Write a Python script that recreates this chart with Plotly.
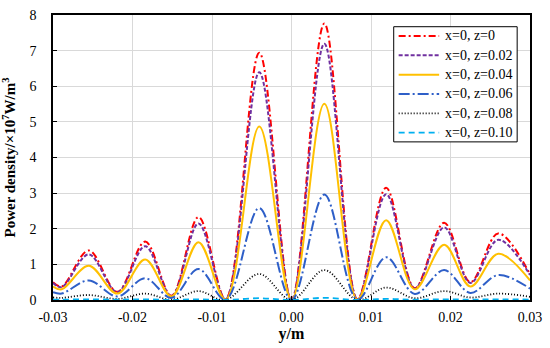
import plotly.graph_objects as go

y_pos = [-0.030, -0.0289, -0.0255, -0.0219, -0.0184, -0.0151, -0.0117, -0.0083, -0.00405,
         0.0, 0.00413, 0.0083, 0.0119, 0.0155, 0.0192, 0.0225, 0.026, 0.030]

z0   = [0.50, 0.38, 1.39, 0.23, 1.64, 0.12, 2.33, 0.02, 6.94, 0.0, 7.76, 0.02, 3.15, 0.33, 2.17, 0.50, 1.87, 0.72]
z002 = [0.48, 0.36, 1.28, 0.22, 1.51, 0.11, 2.15, 0.02, 6.39, 0.0, 7.19, 0.02, 2.97, 0.32, 2.04, 0.48, 1.69, 0.70]
z004 = [0.38, 0.30, 0.96, 0.18, 1.14, 0.10, 1.62, 0.01, 4.87, 0.0, 5.51, 0.01, 2.24, 0.30, 1.55, 0.38, 1.30, 0.55]
z006 = [0.22, 0.18, 0.55, 0.10, 0.61, 0.06, 0.87, 0.01, 2.58, 0.0, 2.96, 0.01, 1.20, 0.17, 0.84, 0.20, 0.70, 0.32]
z008 = [0.07, 0.06, 0.14, 0.03, 0.18, 0.01, 0.25, 0.0, 0.73, 0.0, 0.84, 0.0, 0.35, 0.05, 0.25, 0.07, 0.18, 0.09]
z010 = [0.01, 0.01, 0.02, 0.01, 0.02, 0.0, 0.02, 0.0, 0.05, 0.0, 0.06, 0.0, 0.03, 0.01, 0.02, 0.01, 0.02, 0.01]

names = ["x=0, z=0", "x=0, z=0.02", "x=0, z=0.04", "x=0, z=0.06", "x=0, z=0.08", "x=0, z=0.10"]
series = [z0, z002, z004, z006, z008, z010]
colors = ["#FF0000", "#7030A0", "#FFC000", "#2E5FC8", "#000000", "#00B0F0"]
dashes = ["7px,3px,2px,3px", "4px,2px", "solid", "11px,3px,2px,3px", "1px,2px", "6px,4px"]
widths = [2, 2, 2, 2, 1.8, 1.8]

x_ticks = [-0.03, -0.02, -0.01, 0.0, 0.01, 0.02, 0.03]
x_tick_labels = ["-0.03", "-0.02", "-0.01", "0.00", "0.01", "0.02", "0.03"]
y_ticks = [0, 1, 2, 3, 4, 5, 6, 7, 8]

fig = go.Figure()
for nm, s, c, d, w in zip(names, series, colors, dashes, widths):
    fig.add_trace(go.Scatter(x=y_pos, y=s, mode="lines", name=nm, showlegend=False,
                             line=dict(color=c, dash=d, width=w, shape="spline", smoothing=1.0)))

font = "Liberation Serif, Times New Roman, serif"

# legend drawn as a box with sample lines and labels (paper coordinates)
W, H, L, T = 550, 348, 53, 8
PW, PH = W - L - 14, H - T - 48
def px(x): return (x - L) / PW
def py(y): return (T + PH - y) / PH

shapes = [dict(type="rect", xref="paper", yref="paper",
               x0=px(398), x1=px(523), y0=py(138), y1=py(20),
               line=dict(color="black", width=1), fillcolor="white", layer="above")]
annotations = []
row_y = [29.5, 49.3, 69.1, 88.9, 108.7, 128.5]
for nm, c, d, w, ry in zip(names, colors, dashes, widths, row_y):
    shapes.append(dict(type="line", xref="paper", yref="paper",
                       x0=px(403), x1=px(444), y0=py(ry), y1=py(ry),
                       line=dict(color=c, dash=d, width=w), layer="above"))
    annotations.append(dict(text=nm, xref="paper", yref="paper", x=px(448), y=py(ry),
                            xanchor="left", yanchor="middle", showarrow=False,
                            font=dict(family=font, size=14, color="black")))

fig.update_layout(
    width=W, height=H,
    margin=dict(l=L, r=14, t=T, b=48),
    paper_bgcolor="white", plot_bgcolor="white",
    font=dict(family=font, size=14, color="black"),
    showlegend=False,
    shapes=shapes, annotations=annotations,
    xaxis=dict(range=[-0.03, 0.03], tickvals=x_ticks, ticktext=x_tick_labels,
               showgrid=True, gridcolor="#D9D9D9", gridwidth=1,
               showline=True, linecolor="black", linewidth=1.5, mirror=True,
               ticks="inside", ticklen=4, tickcolor="black", zeroline=False,
               tickfont=dict(family=font, size=14), ticklabelstandoff=3,
               title=dict(text="<b>y/m</b>", font=dict(family=font, size=16), standoff=2)),
    yaxis=dict(range=[0, 8], tickvals=y_ticks,
               showgrid=True, gridcolor="#D9D9D9", gridwidth=1,
               showline=True, linecolor="black", linewidth=1.5, mirror=True,
               ticks="inside", ticklen=4, tickcolor="black", zeroline=False,
               tickfont=dict(family=font, size=14), ticklabelstandoff=12,
               title=dict(text="<b>Power density/×10<sup>7</sup>W/m<sup>3</sup></b>",
                          font=dict(family=font, size=15), standoff=11)),
)

fig.write_html("out.html", config={"displayModeBar": False},
               post_script="document.body.style.margin='0';")
